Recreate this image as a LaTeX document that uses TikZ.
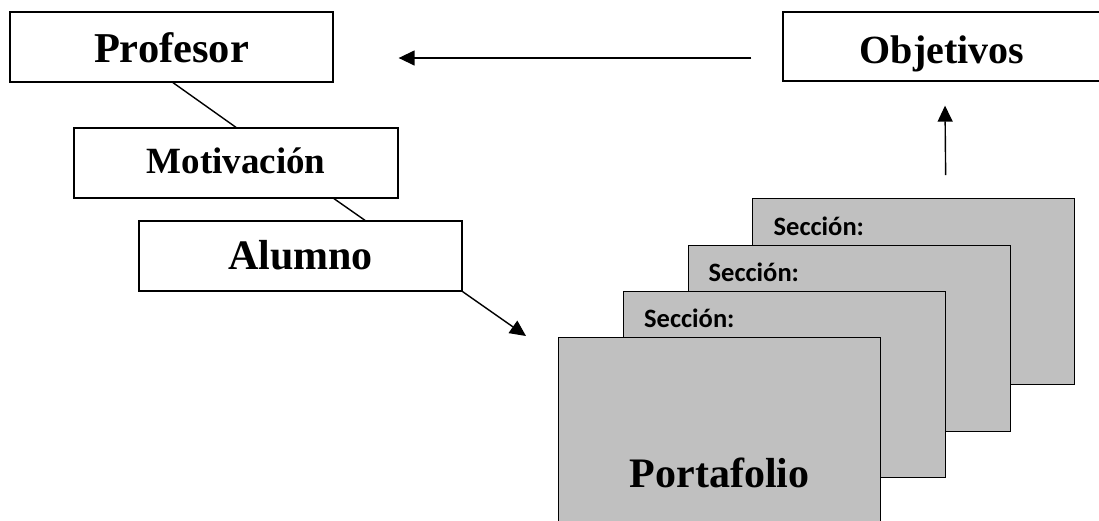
\documentclass[tikz,border=0pt]{standalone}
\usepackage{fontspec}
\setmainfont{Liberation Serif}
\newfontfamily\carlito{Carlito}
\usetikzlibrary{arrows.meta,calc}
\definecolor{boxgray}{HTML}{C0C0C0}
\begin{document}
\begin{tikzpicture}[x=1pt,y=-1pt,
  wbox/.style={draw,line width=1.3pt,inner sep=0pt,text depth=0pt},
  gbox/.style={draw,fill=boxgray,line width=1.3pt,inner sep=0pt,minimum width=322pt,minimum height=186pt,anchor=north west},
  seclabel/.style={anchor=base west,inner sep=0pt,font=\carlito\bfseries\fontsize{26.5}{30}\selectfont},
  conn/.style={line width=1.4pt},
  arr/.style={conn,-{Triangle[length=16pt,width=15pt]}}]
\useasboundingbox (0,0) rectangle (1099,520);
% white boxes
\node[wbox,minimum width=323pt,minimum height=70pt,text height=30pt,font=\bfseries\fontsize{42.5}{50}\selectfont] (prof) at (171.5,47) {Profesor};
\node[wbox,minimum width=324pt,minimum height=70pt,text height=20pt,font=\bfseries\fontsize{37}{44}\selectfont] (mot) at (236,163) {Motivación};
\node[wbox,minimum width=323pt,minimum height=70pt,text height=26pt,font=\bfseries\fontsize{42}{50}\selectfont] (alu) at (300.5,256) {Alumno};
\node[wbox,minimum width=318pt,minimum height=69pt,text height=33pt,font=\bfseries\fontsize{40}{48}\selectfont] (obj) at (942,46.5) {Objetivos};
% gray stacked boxes
\node[gbox] (back) at (752,198) {};
\node[seclabel] (s1) at ($(back.north west)+(21.5,37)$) {Sección:};
\node[gbox] (mid) at (687.5,244.5) {};
\node[seclabel] (s2) at ($(mid.north west)+(21,36.5)$) {Sección:};
\node[gbox] (third) at (623,291) {};
\node[seclabel] (s3) at ($(third.north west)+(21,36)$) {Sección:};
\node[gbox,text height=113pt,text depth=0pt,font=\bfseries\fontsize{42}{50}\selectfont] (front) at (558,337) {Portafolio};
% connectors
\draw[conn] ($(prof.south)+(1.5,0)$) -- (mot.north);
\draw[conn] ($(mot.south)+(98,0)$) -- ($(alu.north)+(64.5,0)$);
\draw[arr] (alu.south east) -- ($(front.north west)+(-32,-1)$);
\draw[arr] ($(back.north)+(32,-23)$) -- ($(obj.south)+(3,24)$);
\draw[arr] ($(obj.west)+(-31,11.5)$) -- ($(prof.east)+(65,11)$);
\end{tikzpicture}
\end{document}
